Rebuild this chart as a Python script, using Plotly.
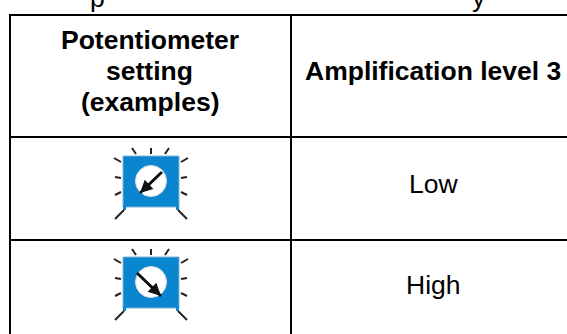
import plotly.graph_objects as go

header_left = ["Potentiometer", "setting", "(examples)"]
header_right = "Amplification level 3"
levels = ["Low", "High"]
clipped_above = ["p", "y"]
BLUE = "#0a86d0"
K = "#111111"
FONT = "Liberation Sans"
SIZE = 26.5

W, H = 567, 334
fig = go.Figure()
shapes = []
def line(x0, y0, x1, y1, w=2, c="black"):
    shapes.append(dict(type="line", xref="x", yref="y", x0=x0, y0=y0, x1=x1, y1=y1,
                       line=dict(color=c, width=w)))

# table grid
line(9, 15, 567, 15)
line(9, 137, 567, 137)
line(9, 240, 567, 240)
line(10, 14, 10, 334)
line(291, 15, 291, 334)

def pot(cx, cy, ax0, ay0, ax1, ay1):
    shapes.append(dict(type="rect", x0=cx-28, x1=cx+28, y0=cy-25, y1=cy+26,
                       fillcolor=BLUE, line=dict(color="#7fb6d8", width=1)))
    for fx in (cx-28, cx+25):
        shapes.append(dict(type="rect", x0=fx, x1=fx+3, y0=cy+25, y1=cy+29,
                           fillcolor=BLUE, line=dict(width=0)))
    shapes.append(dict(type="circle", x0=cx-15.5, x1=cx+15.5, y0=cy-15.5, y1=cy+15.5,
                       fillcolor="white", line=dict(color="#dddddd", width=1)))
    rays = [(-19,-33,-15,-27),(0,-33,0,-27),(18,-33,14,-27),
            (-37,-23,-30,-19),(-36,-4,-30,-3),(-36,14,-30,11),(-36,38,-27,29),
            (37,-23,30,-19),(36,-4,30,-3),(36,14,30,11),(36,38,27,29)]
    for a, b, c, d in rays:
        line(cx+a, cy+b, cx+c, cy+d, w=2, c="#222222")
    line(cx+ax0, cy+ay0, cx+ax1, cy+ay1, w=2.5, c=K)
    fig.add_annotation(x=cx+ax1, y=cy+ay1, ax=cx+ax0, ay=cy+ay0, xref="x", yref="y",
                       axref="x", ayref="y", text="", showarrow=True, arrowhead=2,
                       arrowsize=1, arrowwidth=2.5, arrowcolor=K)

pot(151, 181, 11, -9, -11, 12)
pot(151, 282, -14, -9, 10, 14)

def label(x, y, t, bold=False):
    fig.add_annotation(x=x, y=y, text=f"<b>{t}</b>" if bold else t, showarrow=False,
                       font=dict(family=FONT, size=SIZE, color="black"))

for t, y in zip(header_left, [40, 71, 102]):
    label(149.5, y, t, True)
label(433, 71, header_right, True)
for t, y in zip(levels, [184, 285]):
    label(433, y, t)

for t, x in zip(clipped_above, [97, 479]):
    fig.add_annotation(x=x, y=1 + 18.5 / H, xref="x", yref="paper", text=t, showarrow=False,
                       font=dict(family=FONT, size=SIZE, color="black"))

fig.update_layout(width=W, height=H, margin=dict(l=0, r=0, t=0, b=0), shapes=shapes,
                  paper_bgcolor="white", plot_bgcolor="white", showlegend=False,
                  xaxis=dict(range=[0, W], visible=False, fixedrange=True),
                  yaxis=dict(range=[H, 0], visible=False, fixedrange=True))
fig.write_html("out.html", config=dict(displayModeBar=False),
               post_script="document.body.style.margin='0';document.body.style.overflow='hidden';")
